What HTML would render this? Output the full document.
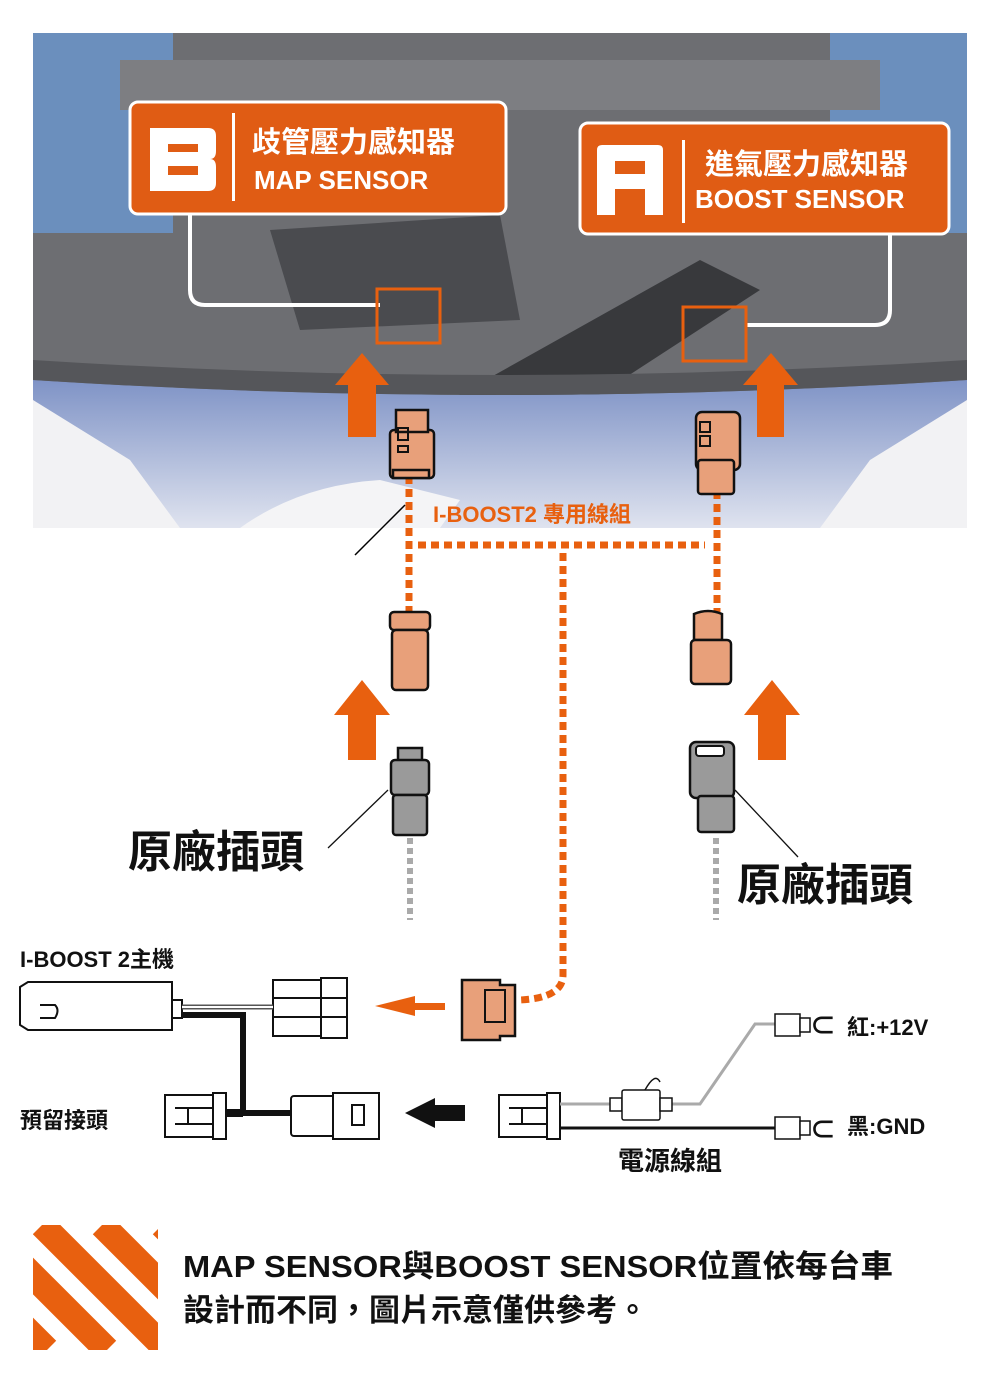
<!DOCTYPE html>
<html><head><meta charset="utf-8"><style>
html,body{margin:0;padding:0;background:#fff}
svg{display:block}
text{font-family:"Liberation Sans","Noto Sans CJK TC",sans-serif;font-weight:bold}
</style></head><body>
<svg width="1000" height="1400" viewBox="0 0 1000 1400" xmlns="http://www.w3.org/2000/svg">
<defs>
<linearGradient id="hood" x1="0" y1="0" x2="0" y2="1">
<stop offset="0" stop-color="#7f93c6"/><stop offset="1" stop-color="#dfe3ef"/>
</linearGradient>
<clipPath id="stripe"><rect x="33" y="1225" width="125" height="125"/></clipPath>
</defs>
<!-- photo -->
<rect x="33" y="33" width="934" height="495" fill="#6d6e72"/>
<rect x="33" y="33" width="140" height="200" fill="#6b8fbd"/>
<rect x="830" y="33" width="137" height="200" fill="#6b8fbd"/>
<rect x="120" y="60" width="760" height="50" fill="#7d7e82"/>
<path d="M270 230 L500 215 L520 320 L300 330 Z" fill="#4a4b4f"/>
<path d="M450 400 L700 260 L760 290 L560 420 Z" fill="#38393c"/>
<path d="M33 380 Q500 410 967 380 L967 528 L33 528 Z" fill="url(#hood)"/>
<path d="M33 400 L130 460 L180 528 L33 528 Z" fill="#f2f2f4"/>
<path d="M967 400 L870 460 L820 528 L967 528 Z" fill="#f2f2f4"/>
<path d="M240 528 Q300 485 380 480 L460 500 L440 528 Z" fill="#f4f4f6"/>
<path d="M33 360 Q500 390 967 360 L967 380 Q500 410 33 380 Z" fill="#55565a"/>
<!-- white leader lines -->
<path d="M190 213 V290 Q190 305 205 305 H380" fill="none" stroke="#fff" stroke-width="4"/>
<path d="M890 233 V310 Q890 325 875 325 H747" fill="none" stroke="#fff" stroke-width="4"/>
<rect x="377" y="289" width="63" height="54" fill="none" stroke="#e8600f" stroke-width="3"/>
<rect x="683" y="307" width="63" height="54" fill="none" stroke="#e8600f" stroke-width="3"/>
<!-- label B -->
<rect x="130" y="102" width="376" height="112" rx="8" fill="#e05c14" stroke="#fff" stroke-width="3"/>
<path d="M150 128 H208 Q216 128 216 136 V151 Q216 159 210 159 Q216 159 216 167 V183 Q216 191 208 191 H150 Z M168 144 V152 H198 V144 Z M168 166 V175 H198 V166 Z" fill="#fff" fill-rule="evenodd"/>
<rect x="232" y="113" width="3" height="88" fill="#fff"/>
<text x="252" y="152" font-size="29" fill="#fff">歧管壓力感知器</text>
<text x="254" y="189" font-size="26" fill="#fff">MAP SENSOR</text>
<!-- label A -->
<rect x="580" y="123" width="369" height="111" rx="8" fill="#e05c14" stroke="#fff" stroke-width="3"/>
<path d="M597 215 V150 Q597 145 602 145 H658 Q663 145 663 150 V215 H645 V189 H615 V215 Z M615 161 V174 H645 V161 Z" fill="#fff"/>
<rect x="682" y="140" width="3" height="83" fill="#fff"/>
<text x="705" y="174" font-size="29" fill="#fff">進氣壓力感知器</text>
<text x="695" y="208" font-size="26" fill="#fff">BOOST SENSOR</text>
<!-- up arrows top -->
<path d="M348 437 V385 H335 L362 353 L389 385 H376 V437 Z" fill="#e8600f"/>
<path d="M757 437 V385 H743 L771 353 L798 385 H784 V437 Z" fill="#e8600f"/>
<!-- dashed orange harness -->
<g stroke="#e8600f" stroke-width="7" stroke-dasharray="8 5" fill="none">
<line x1="409" y1="476" x2="409" y2="612"/>
<line x1="717" y1="478" x2="717" y2="612"/>
<line x1="418" y1="545" x2="705" y2="545"/>
<path d="M563 553 V975 Q563 998 520 1000"/>
</g>
<line x1="405" y1="505" x2="355" y2="555" stroke="#000" stroke-width="1.5"/>
<text x="433" y="522" font-size="22" fill="#e8600f">I-BOOST2  專用線組</text>
<!-- top orange connectors -->
<g stroke="#111" stroke-width="2.5" fill="#e8a07a">
<rect x="390" y="430" width="44" height="48" rx="4"/>
<rect x="396" y="410" width="32" height="22"/>
<rect x="393" y="470" width="36" height="8"/>
<rect x="696" y="412" width="44" height="58" rx="6"/>
<rect x="698" y="460" width="36" height="34" rx="3"/>
<rect x="390" y="612" width="40" height="18" rx="4"/>
<rect x="392" y="630" width="36" height="60" rx="4"/>
<path d="M694 614 Q708 608 722 614 V640 H694 Z"/>
<rect x="691" y="640" width="40" height="44" rx="4"/>
</g>
<g stroke="#111" stroke-width="2" fill="none">
<rect x="398" y="428" width="10" height="12"/><rect x="398" y="446" width="10" height="6"/>
<rect x="700" y="422" width="10" height="10"/><rect x="700" y="436" width="10" height="10"/>
</g>
<!-- middle arrows -->
<path d="M348 760 V715 H334 L362 680 L390 715 H376 V760 Z" fill="#e8600f"/>
<path d="M758 760 V715 H744 L772 680 L800 715 H786 V760 Z" fill="#e8600f"/>
<!-- gray connectors -->
<g stroke="#111" stroke-width="2.5" fill="#9a9a9a">
<rect x="398" y="748" width="24" height="16"/>
<rect x="391" y="760" width="38" height="35" rx="4"/>
<rect x="393" y="795" width="34" height="40" rx="3"/>
<rect x="690" y="742" width="44" height="56" rx="6"/>
<rect x="698" y="796" width="36" height="36" rx="3"/>
</g>
<rect x="696" y="746" width="28" height="10" rx="3" fill="#fff" stroke="#111" stroke-width="2"/>
<g stroke="#aaa" stroke-width="6" stroke-dasharray="6 4">
<line x1="410" y1="838" x2="410" y2="920"/>
<line x1="716" y1="838" x2="716" y2="920"/>
</g>
<line x1="388" y1="790" x2="328" y2="848" stroke="#111" stroke-width="1.3"/>
<line x1="735" y1="790" x2="798" y2="857" stroke="#111" stroke-width="1.3"/>
<text x="128" y="867" font-size="44" fill="#111">原廠插頭</text>
<text x="737" y="900" font-size="44" fill="#111">原廠插頭</text>
<!-- bottom wiring -->
<text x="20" y="967" font-size="22" fill="#111">I-BOOST  2主機</text>
<g stroke="#111" stroke-width="2" fill="#fff">
<path d="M20 987 L28 982 H172 V1030 H28 L20 1025 Z"/>
<rect x="172" y="1000" width="10" height="18"/>
<rect x="273" y="980" width="48" height="56"/>
<rect x="321" y="978" width="26" height="60"/>
</g>
<line x1="182" y1="1007" x2="273" y2="1007" stroke="#555" stroke-width="5"/>
<line x1="182" y1="1007" x2="273" y2="1007" stroke="#fff" stroke-width="2"/>
<path d="M182 1015 H243 V1113 H290" stroke="#111" stroke-width="6" fill="none"/>
<path d="M225 1113 H243" stroke="#111" stroke-width="8"/>
<g stroke="#111" stroke-width="2" fill="none">
<line x1="273" y1="998" x2="347" y2="998"/><line x1="273" y1="1017" x2="347" y2="1017"/>
<path d="M40 1005 H55 Q60 1010 55 1018 H40"/>
</g>
<path d="M445 1003 H415 V996 L375 1006 L415 1016 V1010 H445 Z" fill="#e8600f"/>
<g stroke="#111" stroke-width="2.5" fill="#e8a07a">
<path d="M462 980 H500 V985 H515 V1036 H500 V1040 H462 Z"/>
</g>
<rect x="485" y="990" width="20" height="32" fill="none" stroke="#111" stroke-width="2"/>
<text x="20" y="1128" font-size="22" fill="#111">預留接頭</text>
<g stroke="#111" stroke-width="2" fill="#fff">
<rect x="165" y="1095" width="50" height="42"/>
<rect x="213" y="1093" width="13" height="46"/>
<rect x="291" y="1096" width="44" height="40" rx="3"/>
<rect x="333" y="1093" width="46" height="46"/>
<rect x="499" y="1095" width="50" height="42"/>
<rect x="547" y="1093" width="13" height="46"/>
</g>
<g stroke="#111" stroke-width="2" fill="none">
<path d="M175 1108 H213 M175 1124 H213 M188 1108 V1124"/>
<rect x="352" y="1105" width="12" height="20"/>
<path d="M509 1108 H547 M509 1124 H547 M522 1108 V1124"/>
</g>
<path d="M465 1105 H435 V1098 L405 1113 L435 1128 V1121 H465 Z" fill="#111"/>
<path d="M560 1104 H700 L755 1024 H775" stroke="#aaa" stroke-width="3" fill="none"/>
<path d="M560 1128 H775" stroke="#111" stroke-width="3" fill="none"/>
<g stroke="#111" stroke-width="1.5" fill="#fff">
<rect x="610" y="1098" width="12" height="13"/>
<rect x="622" y="1090" width="38" height="30" rx="2"/>
<rect x="660" y="1098" width="12" height="13"/>
<path d="M645 1090 Q655 1072 660 1082"/>
<rect x="775" y="1014" width="25" height="22"/><rect x="800" y="1018" width="10" height="14"/>
<rect x="775" y="1117" width="25" height="22"/><rect x="800" y="1121" width="10" height="14"/>
</g>
<text x="810" y="1035" font-size="26" fill="#111" font-weight="normal">⊂</text>
<text x="810" y="1139" font-size="26" fill="#111" font-weight="normal">⊂</text>
<text x="847" y="1035" font-size="22" fill="#111">紅:+12V</text>
<text x="847" y="1134" font-size="22" fill="#111">黑:GND</text>
<text x="618" y="1170" font-size="26" fill="#111">電源線組</text>
<!-- note -->
<g clip-path="url(#stripe)">
<rect x="33" y="1225" width="125" height="125" fill="#fff"/>
<g stroke="#e8600f" stroke-width="26">
<line x1="-78" y1="1225" x2="47" y2="1350"/>
<line x1="-18" y1="1225" x2="107" y2="1350"/>
<line x1="42" y1="1225" x2="167" y2="1350"/>
<line x1="102" y1="1225" x2="227" y2="1350"/>
<line x1="162" y1="1225" x2="287" y2="1350"/>
</g>
</g>
<text x="183" y="1277" font-size="31" fill="#111" textLength="710" lengthAdjust="spacingAndGlyphs">MAP  SENSOR與BOOST  SENSOR位置依每台車</text>
<text x="183" y="1321" font-size="31" fill="#111">設計而不同，圖片示意僅供參考。</text>
</svg>
</body></html>
